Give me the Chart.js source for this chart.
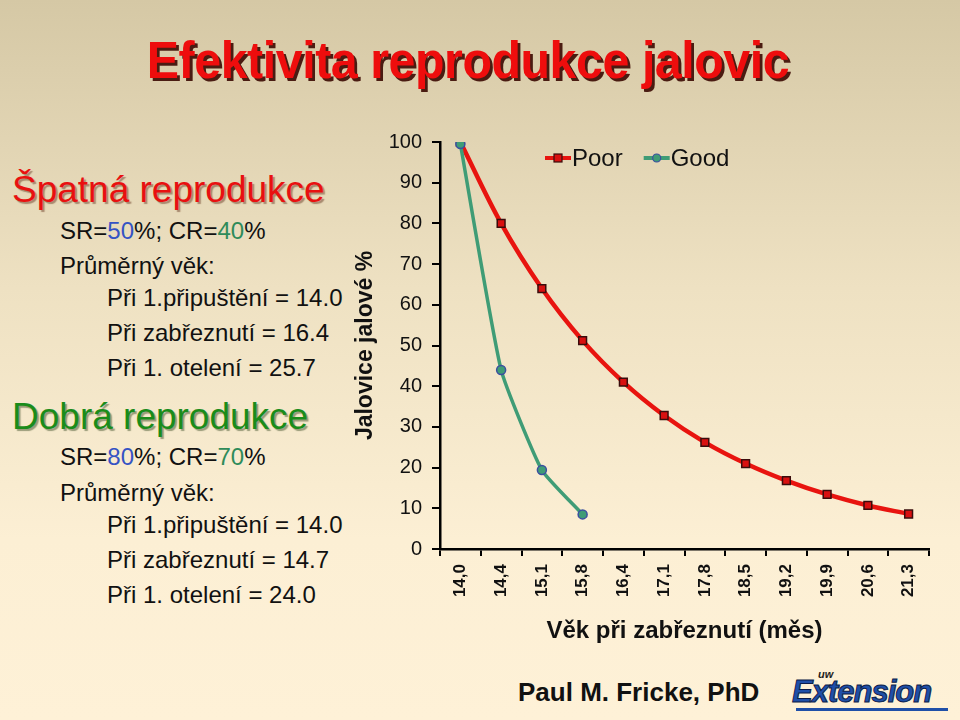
<!DOCTYPE html>
<html>
<head>
<meta charset="utf-8">
<script src="https://cdn.jsdelivr.net/npm/chart.js@4.4.1/dist/chart.umd.min.js"></script>
<style>
  html, body { margin:0; padding:0; }
  body {
    width:960px; height:720px; position:relative; overflow:hidden;
    background: linear-gradient(to bottom, #d5c8a5 0%, #eee1c2 40%, #fcefd4 75%, #fef1d7 100%);
    font-family: "Liberation Sans", Arial, sans-serif;
  }
  .title {
    position:absolute; left:0; width:936px; top:30px; text-align:center;
    font-weight:bold; font-size:52px; line-height:60px; color:#ee0d0d;
    text-shadow: 3px 3px 0 #4a1c12;
    transform: scaleX(0.93);
    letter-spacing:-0.5px;
  }
  .h { position:absolute; left:12px; font-size:37px; line-height:42px; white-space:nowrap; }
  .h.bad { color:#e81010; text-shadow:2px 2px 1px rgba(90,40,20,0.45); }
  .h.good { color:#1a8c1a; text-shadow:2px 2px 1px rgba(40,60,20,0.45); }
  .t { position:absolute; font-size:24px; line-height:28px; color:#111; white-space:nowrap; }
  .l1 { left:60px; }
  .l2 { left:107px; }
  .b { color:#3553c4; }
  .g { color:#2f8b5a; }
  #wrap { position:absolute; left:340px; top:120px; width:620px; height:530px; }
  .footer { position:absolute; left:518px; top:677px; font-size:26px; font-weight:bold; color:#111; }
  .logo { position:absolute; left:792px; top:668px; width:160px; height:44px; }
  .logo .uw { position:absolute; left:26px; top:0px; font-size:11px; font-weight:bold; font-style:italic; color:#222; }
  .logo .ext { position:absolute; left:0; top:6px; font-size:31px; font-weight:bold; font-style:italic; color:#1f4fa8;
    letter-spacing:-1px; -webkit-text-stroke:1px #0c1c4a; }
  .logo .bar { position:absolute; left:4px; top:40px; width:152px; height:3px; background:#1f4fa8; }
</style>
</head>
<body>
<div class="title">Efektivita reprodukce jalovic</div>

<div class="h bad" style="top:169px">Špatná reprodukce</div>
<div class="t l1" style="top:217px">SR=<span class="b">50</span>%; CR=<span class="g">40</span>%</div>
<div class="t l1" style="top:252px">Průměrný věk:</div>
<div class="t l2" style="top:284px">Při 1.připuštění = 14.0</div>
<div class="t l2" style="top:319px">Při zabřeznutí = 16.4</div>
<div class="t l2" style="top:354px">Při 1. otelení = 25.7</div>

<div class="h good" style="top:396px">Dobrá reprodukce</div>
<div class="t l1" style="top:443px">SR=<span class="b">80</span>%; CR=<span class="g">70</span>%</div>
<div class="t l1" style="top:479px">Průměrný věk:</div>
<div class="t l2" style="top:511px">Při 1.připuštění = 14.0</div>
<div class="t l2" style="top:546px">Při zabřeznutí = 14.7</div>
<div class="t l2" style="top:581px">Při 1. otelení = 24.0</div>

<div id="wrap"><canvas id="chart" width="620" height="530"></canvas></div>

<div class="footer">Paul M. Fricke, PhD</div>
<div class="logo"><div class="uw">uw</div><div class="ext">Extension</div><div class="bar"></div></div>

<script>
const categories = ['14,0','14,4','15,1','15,8','16,4','17,1','17,8','18,5','19,2','19,9','20,6','21,3'];
const poorValues = [100, 80, 64, 51.2, 41, 32.8, 26.2, 21, 16.8, 13.4, 10.7, 8.6];
const goodValues = [99.5, 44, 19.4, 8.5, null, null, null, null, null, null, null, null];
const seriesNames = ['Poor', 'Good'];
const yAxisTitle = 'Jalovice jalové %';
const xAxisTitle = 'Věk při zabřeznutí (měs)';

const poorColor = '#e8140f';
const goodColor = '#3f9c76';

const legendPlugin = {
  id: 'customLegend',
  afterDraw(chart) {
    const ctx = chart.ctx;
    const items = [
      { label: seriesNames[0], color: poorColor, style: 'rect', fill: '#d81010', border: '#3a0c0c' },
      { label: seriesNames[1], color: goodColor, style: 'circle', fill: '#3f9c76', border: '#3b4fa0' }
    ];
    let x = 205, y = 38;
    ctx.save();
    ctx.font = '24px "Liberation Sans", Arial, sans-serif';
    ctx.textBaseline = 'middle';
    items.forEach(it => {
      ctx.strokeStyle = it.color;
      ctx.lineWidth = 4;
      ctx.beginPath(); ctx.moveTo(x, y); ctx.lineTo(x + 26, y); ctx.stroke();
      ctx.fillStyle = it.fill; ctx.strokeStyle = it.border; ctx.lineWidth = 1.2;
      if (it.style === 'rect') {
        ctx.fillRect(x + 9, y - 4, 8, 8); ctx.strokeRect(x + 9, y - 4, 8, 8);
      } else {
        ctx.beginPath(); ctx.arc(x + 13, y, 4, 0, Math.PI * 2); ctx.fill(); ctx.stroke();
      }
      ctx.fillStyle = '#111';
      ctx.fillText(it.label, x + 27, y + 1);
      x += 27 + ctx.measureText(it.label).width + 21;
    });
    ctx.restore();
  }
};

Chart.defaults.font.family = '"Liberation Sans", Arial, sans-serif';
Chart.defaults.color = '#111';

new Chart(document.getElementById('chart').getContext('2d'), {
  type: 'line',
  data: {
    labels: categories,
    datasets: [
      {
        label: seriesNames[0],
        data: poorValues,
        borderColor: poorColor,
        borderWidth: 4.5,
        tension: 0.35,
        pointStyle: 'rect',
        pointRadius: 5.5,
        pointBackgroundColor: '#d81010',
        pointBorderColor: '#3a0c0c',
        pointBorderWidth: 1.5,
        order: 2
      },
      {
        label: seriesNames[1],
        data: goodValues,
        borderColor: goodColor,
        borderWidth: 3.5,
        tension: 0.15,
        spanGaps: false,
        pointStyle: 'circle',
        pointRadius: 4.5,
        pointBackgroundColor: '#3f9c76',
        pointBorderColor: '#3b4fa0',
        pointBorderWidth: 1.5,
        order: 1
      }
    ]
  },
  options: {
    responsive: false,
    animation: false,
    layout: { padding: { top: 21, right: 31, left: 12, bottom: 0 } },
    plugins: { legend: { display: false }, tooltip: { enabled: false } },
    scales: {
      x: {
        type: 'category',
        offset: true,
        grid: { offset: true, drawOnChartArea: false, color: '#000', tickLength: 7, lineWidth: 2 },
        border: { color: '#000', width: 2.5 },
        ticks: { minRotation: 90, maxRotation: 90, font: { size: 17, weight: 'bold' }, color: '#111', padding: 8 },
        title: { display: true, text: xAxisTitle, font: { size: 24, weight: 'bold' }, color: '#111', padding: { top: 4, bottom: 4 } },
        afterFit(scale) { scale.height = 101; }
      },
      y: {
        min: 0, max: 100,
        grid: { drawOnChartArea: false, color: '#000', tickLength: 8, lineWidth: 2 },
        border: { color: '#000', width: 2.5 },
        ticks: { stepSize: 10, font: { size: 20 }, color: '#111', padding: 10 },
        title: { display: true, text: yAxisTitle, font: { size: 23, weight: 'bold' }, color: '#111', padding: { top: 0, bottom: 4 } },
        afterFit(scale) { scale.width = 88; }
      }
    }
  },
  plugins: [legendPlugin]
});
</script>
</body>
</html>
